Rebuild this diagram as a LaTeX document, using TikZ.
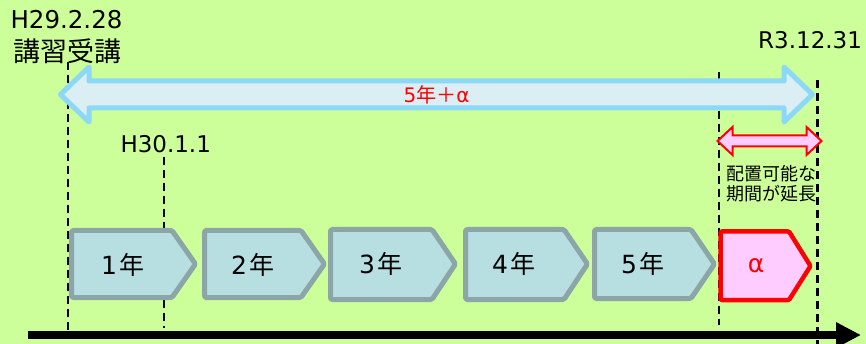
\documentclass[tikz,border=0pt]{standalone}
\usepackage{fontspec}
\setmainfont{DejaVu Sans}
\newfontfamily\jp{Noto Sans CJK JP}
\usetikzlibrary{arrows.meta}
\definecolor{bgc}{HTML}{CCFF99}
\definecolor{blueb}{HTML}{8DD8F6}
\definecolor{bluef}{HTML}{DAEEF3}
\definecolor{grayb}{HTML}{8CA5A7}
\definecolor{grayf}{HTML}{B7DEE1}
\definecolor{pinkf}{HTML}{FFCCFF}
\tikzset{
  lbl/.style={inner sep=0pt, outer sep=0pt},
  yearbox/.style={draw=grayb, fill=grayf, line width=5pt, rounded corners=1.5pt, line join=round},
  alphabox/.style={draw=red, fill=pinkf, line width=4.5pt, rounded corners=1pt, line join=round},
  dashline/.style={line width=2.5pt, dash pattern=on 8pt off 5pt},
  bigarrow/.style={draw=blueb, fill=bluef, line width=5pt, line join=round},
  redarrow/.style={draw=red, fill=pinkf, line width=2pt, line join=miter},
  yearlbl/.style={lbl, font=\fontsize{25}{28}\selectfont},
}
\begin{document}
\begin{tikzpicture}[x=1pt,y=-1pt]
\fill[bgc] (0,0) rectangle (866,344);
\useasboundingbox (0,0) rectangle (866,344);

% dashed guide lines
\coordinate (d1a) at (68,62);   \coordinate (d1b) at (68,331);
\coordinate (d2a) at (164,157); \coordinate (d2b) at (164,328);
\coordinate (d3a) at (719,72);  \coordinate (d3b) at (719,325);
\coordinate (d4a) at (817.5,80);\coordinate (d4b) at (817.5,344);
\draw[dashline] (d1a) -- (d1b);
\draw[dashline] (d2a) -- (d2b);
\draw[dashline] (d3a) -- (d3b);
\draw[dashline] (d4a) -- (d4b);

% big double arrow
\path[bigarrow] (60.5,94.5) -- (89,67) -- (89,81) -- (784,81) -- (784,67) -- (812.5,94.5)
  -- (784,122) -- (784,108) -- (89,108) -- (89,122) -- cycle;
\node[lbl, text=red, font=\fontsize{20}{22}\selectfont] (total) at (436.5,95) {5{\jp 年＋}α};

% red double arrow
\path[redarrow] (717.5,141) -- (732.5,127) -- (732.5,135.5) -- (806.5,135.5) -- (806.5,127)
  -- (821.5,141) -- (806.5,155) -- (806.5,146.5) -- (732.5,146.5) -- (732.5,155) -- cycle;
\node[lbl, font=\fontsize{18}{20}\selectfont\jp, align=center] (ext1) at (771,174) {配置可能な};
\node[lbl, font=\fontsize{18}{20}\selectfont\jp, align=center] (ext2) at (771,194) {期間が延長};

% year boxes
\path[yearbox] (71.5,230.5) -- (172,230.5) -- (195.5,264) -- (172,297.5) -- (71.5,297.5) -- cycle;
\path[yearbox] (204.5,230.5) -- (301,230.5) -- (324.5,264) -- (301,297.5) -- (204.5,297.5) -- cycle;
\path[yearbox] (330.5,229.5) -- (432,229.5) -- (455.5,264) -- (432,299.5) -- (330.5,299.5) -- cycle;
\path[yearbox] (465.5,229.5) -- (564,229.5) -- (587.5,264) -- (564,299.5) -- (465.5,299.5) -- cycle;
\path[yearbox] (594.5,229.5) -- (691,229.5) -- (714.5,264) -- (691,298.5) -- (594.5,298.5) -- cycle;
\path[alphabox] (720.5,231.5) -- (789,231.5) -- (810.5,266) -- (789,300) -- (720.5,300) -- cycle;

\node[yearlbl] (y1) at (123,265) {1\hspace{3pt}{\jp 年}};
\node[yearlbl] (y2) at (253,265) {2\hspace{3pt}{\jp 年}};
\node[yearlbl] (y3) at (381,264) {3\hspace{3pt}{\jp 年}};
\node[yearlbl] (y4) at (514,264) {4\hspace{3pt}{\jp 年}};
\node[yearlbl] (y5) at (643,264) {5\hspace{3pt}{\jp 年}};
\node[yearlbl, text=red] (ya) at (756,266) {α};

% texts
\node[lbl, anchor=base west, font=\fontsize{24.5}{26}\selectfont] (start) at (10.5,28.5) {H29.2.28};
\node[lbl, font=\fontsize{27}{30}\selectfont\jp] (kosh) at (67.5,51.5) {講習受講};
\node[lbl, anchor=base east, font=\fontsize{23}{26}\selectfont] (end) at (862,49) {R3.12.31};
\node[lbl, anchor=base west, font=\fontsize{23}{26}\selectfont] (h30) at (120.5,153) {H30.1.1};

% time axis
\coordinate (ax0) at (28,335);
\coordinate (ax1) at (861,335);
\draw[line width=8pt, -{Triangle[length=25pt,width=24pt]}] (ax0) -- (ax1);
\end{tikzpicture}
\end{document}
